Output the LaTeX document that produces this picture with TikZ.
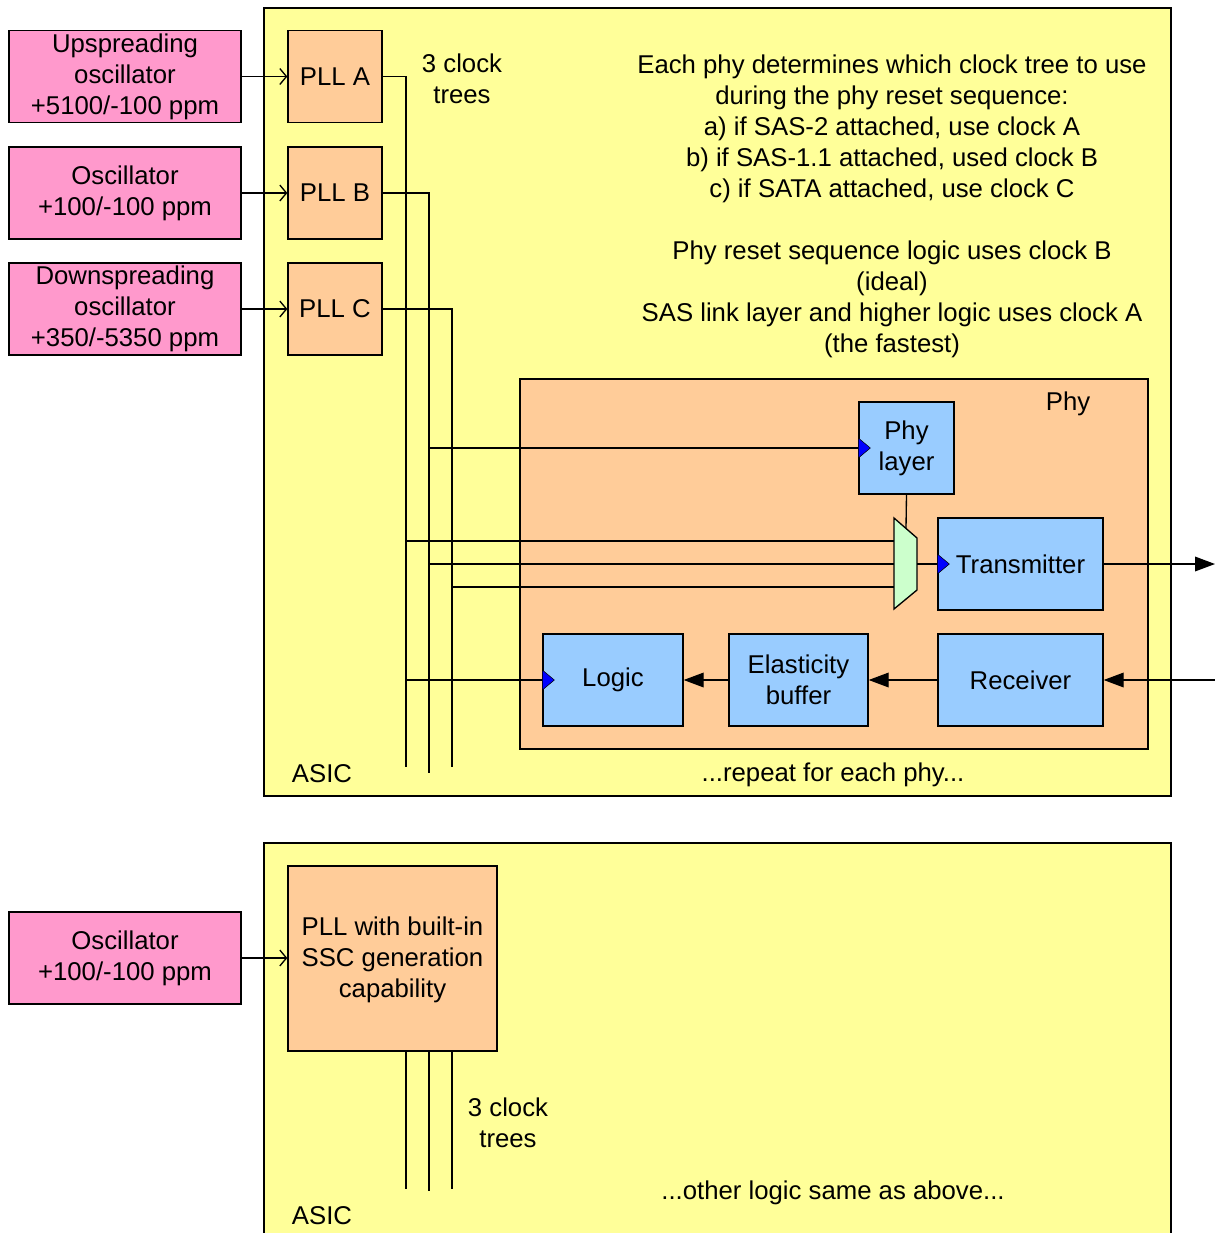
\documentclass[tikz,border=0pt]{standalone}
\usepackage{fontspec}
\setmainfont{Liberation Sans}
\usetikzlibrary{arrows.meta}
\definecolor{asicyellow}{HTML}{FFFF99}
\definecolor{oscpink}{HTML}{FF99CC}
\definecolor{pllorange}{HTML}{FFCC99}
\definecolor{blkblue}{HTML}{99CCFF}
\definecolor{muxgreen}{HTML}{CCFFCC}
\begin{document}
\begin{tikzpicture}[x=0.75pt,y=-0.75pt,
  every node/.style={font=\fontsize{19.3}{23.25}\selectfont},
  box/.style={draw=black,line width=1pt,inner sep=0pt,align=center},
  osc/.style={box,fill=oscpink,minimum width=174pt,minimum height=69pt},
  pll/.style={box,fill=pllorange,minimum width=70.5pt,minimum height=69pt},
  blk/.style={box,fill=blkblue,minimum height=69pt},
  txt/.style={align=center,inner sep=0pt,yshift=-1.5pt},
  wire/.style={line width=1pt},
  openarr/.style={wire,-{Straight Barb[length=5pt,width=12pt]}},
  fillarr/.style={wire,-{Triangle[length=15pt,width=11pt]}},
  clk/.style={fill=blue,draw=black,line width=0.4pt}
]
\useasboundingbox (0,0) rectangle (1215,1233);
\begin{scope}
\clip (0,0) rectangle (1215,1233);
% ASIC containers
\draw[fill=asicyellow,line width=1pt] (264,8) rectangle (1171,796);
\draw[fill=asicyellow,line width=1pt] (264,843) rectangle (1171,1260);
\end{scope}
% Phy container
\node[box,fill=pllorange,minimum width=471pt,minimum height=277.5pt] (phy) at (834,564) {};
\node[txt] (phylbl) at (1068,402) {Phy};

% oscillators
\node[osc] (oscA) at (125,76.5) {Upspreading\\oscillator\\+5100/-100 ppm};
\node[osc] (oscB) at (125,193) {Oscillator\\+100/-100 ppm};
\node[osc] (oscC) at (125,309) {Downspreading\\oscillator\\+350/-5350 ppm};
\node[osc] (oscD) at (125,958) {Oscillator\\+100/-100 ppm};

% PLLs
\node[pll] (pllA) at (335,76.5) {PLL A};
\node[pll] (pllB) at (335,193) {PLL B};
\node[pll] (pllC) at (335,309) {PLL C};
\node[box,fill=pllorange,minimum width=156.75pt,minimum height=138.75pt] (pllS) at (392.5,958.5) {};
\node[txt] (pllStxt) at (392.5,958) {PLL with built-in\\SSC generation\\capability};

\draw[openarr] (oscA) -- (pllA);
\draw[openarr] (oscB) -- (pllB);
\draw[openarr] (oscC) -- (pllC);
\draw[openarr] (oscD.east) -- (oscD.east -| pllS.west);

% texts
\node[txt] (trees1) at (462,76.5) {3 clock\\trees};
\node[txt] (info1) at (892,127) {Each phy determines which clock tree to use\\during the phy reset sequence:\\a) if SAS-2 attached, use clock A\\b) if SAS-1.1 attached, used clock B\\c) if SATA attached, use clock C};
\node[txt] (info2) at (892,297.5) {Phy reset sequence logic uses clock B\\(ideal)\\SAS link layer and higher logic uses clock A\\(the fastest)};
\node[txt] (asic1) at (322,772) {ASIC};
\node[txt] (rep) at (833,773) {...repeat for each phy...};
\node[txt] (trees2) at (508,1121) {3 clock\\trees};
\node[txt] (other) at (833,1191) {...other logic same as above...};
\node[txt] (asic2) at (322,1214) {ASIC};

% blocks in phy
\node[blk,minimum width=71.25pt] (phyl) at (906.5,448) {Phy\\layer};
\node[blk,minimum width=123.75pt] (tx) at (1020.5,564) {Transmitter};
\node[blk,minimum width=123.75pt] (rx) at (1020.5,680) {Receiver};
\node[blk,minimum width=104.25pt] (eb) at (798.5,680) {Elasticity\\buffer};
\node[blk,minimum width=105pt] (logic) at (613,680) {Logic};

% mux
\draw[fill=muxgreen,line width=1pt] (894,518) -- (917,538) -- (917,590) -- (894,609) -- cycle;
\coordinate (mi1) at (894,541);
\coordinate (mi2) at (894,564);
\coordinate (mi3) at (894,587);
\coordinate (mo) at (917,564);
\coordinate (mtop) at (906,528.4);

% clock trees (top)
\coordinate (tA) at (406,767);
\coordinate (tB) at (429,773);
\coordinate (tC) at (452,767);
\draw[wire] (pllA.east) -| (tA);
\draw[wire] (pllB.east) -| (tB);
\draw[wire] (pllC.east) -| (tC);
\draw[wire] (tB |- phyl.west) -- (phyl.west);
\draw[wire] (tA |- mi1) -- (mi1);
\draw[wire] (tB |- mi2) -- (mi2);
\draw[wire] (tC |- mi3) -- (mi3);
\draw[wire] (tA |- logic.west) -- (logic.west);
\draw[wire] (phyl.south) -- (mtop);
\draw[wire] (mo) -- (tx.west);

% clock triangles
\foreach \n in {phyl,tx,logic}{
  \draw[clk] ([yshift=7.5pt]\n.west) -- ([xshift=9pt]\n.west) -- ([yshift=-7.5pt]\n.west) -- cycle;
}

% data path
\coordinate (txout) at (1215,564);
\coordinate (rxin) at (1215,680);
\draw[fillarr] (tx.east) -- (txout);
\draw[fillarr] (rxin) -- (rx.east);
\draw[fillarr] (rx.west) -- (eb.east);
\draw[fillarr] (eb.west) -- (logic.east);

% clock trees (bottom)
\coordinate (bA) at (406,1189);
\coordinate (bB) at (429,1191);
\coordinate (bC) at (452,1189);
\draw[wire] (bA |- pllS.south) -- (bA);
\draw[wire] (bB |- pllS.south) -- (bB);
\draw[wire] (bC |- pllS.south) -- (bC);
\end{tikzpicture}
\end{document}
